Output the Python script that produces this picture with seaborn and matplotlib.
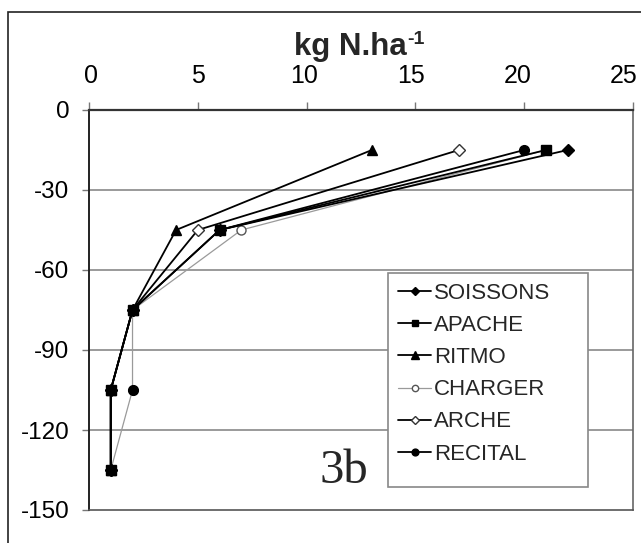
import numpy as np
import pandas as pd
import matplotlib
matplotlib.use("Agg")
import matplotlib.pyplot as plt
import matplotlib.transforms as mtransforms
import seaborn as sns
from matplotlib.patches import Rectangle

# ---- data ----
depths = [-15, -45, -75, -105, -135]
soissons = [22.0, 6.0, 2.0, 1.0, 1.0]
apache = [21.0, 6.0, 2.0, 1.0, 1.0]
ritmo = [13.0, 4.0, 2.0, 1.0, 1.0]
charger = [21.0, 7.0, 2.0, 2.0, 1.0]
arche = [17.0, 5.0, 2.0, 1.0, 1.0]
recital = [20.0, 6.0, np.nan, 2.0, np.nan]

names = ["SOISSONS", "APACHE", "RITMO", "CHARGER", "ARCHE", "RECITAL"]
values = dict(zip(names, [soissons, apache, ritmo, charger, arche, recital]))
draw_order = ["CHARGER", "ARCHE", "RITMO", "SOISSONS", "RECITAL", "APACHE"]
x_ticks = [0, 5, 10, 15, 20, 25]
y_ticks = [-150, -120, -90, -60, -30, 0]

styles = {
    "SOISSONS": dict(marker="D", color="black", mfc="black", mec="black", lw=1.3, ms=6.5),
    "APACHE": dict(marker="s", color="black", mfc="black", mec="black", lw=1.3, ms=6.5),
    "RITMO": dict(marker="^", color="black", mfc="black", mec="black", lw=1.3, ms=7.5),
    "CHARGER": dict(marker="o", color="#9a9a9a", mfc="white", mec="#555555", lw=0.9, ms=6.5),
    "ARCHE": dict(marker="D", color="black", mfc="white", mec="#333333", lw=1.3, ms=6.5),
    "RECITAL": dict(marker="o", color="black", mfc="black", mec="black", lw=1.3, ms=7),
}

sns.set_style("white")
plt.rcParams["font.family"] = ["Liberation Sans", "DejaVu Sans"]
plt.rcParams["axes.unicode_minus"] = False

fig = plt.figure(figsize=(6.41, 5.43), dpi=100)
ax = fig.add_axes([89 / 641, 1 - 510 / 543, (633 - 89) / 641, 400 / 543])

handles = {}
for name in draw_order:
    df = pd.DataFrame({"N": values[name], "depth": depths})
    df["seg"] = df["N"].isna().cumsum()
    df = df.dropna()
    st = styles[name]
    n0 = len(ax.lines)
    sns.lineplot(data=df, x="N", y="depth", units="seg", estimator=None,
                 sort=False, ax=ax, color=st["color"], marker=st["marker"],
                 markerfacecolor=st["mfc"], markeredgecolor=st["mec"],
                 markeredgewidth=1.0, markersize=st["ms"], linewidth=st["lw"],
                 legend=False)
    handles[name] = ax.lines[n0]

ax.set_xlim(0, 25)
ax.set_ylim(-150, 0)
ax.set_xticks(x_ticks)
ax.set_yticks(y_ticks)
ax.xaxis.tick_top()
ax.xaxis.set_label_position("top")
ax.tick_params(axis="x", which="both", top=True, bottom=False, direction="out",
               length=6, width=1, color="#777777", labelsize=18, pad=10,
               labelcolor="black")
ax.tick_params(axis="y", which="both", left=True, direction="out",
               length=5, width=1, color="#777777", labelsize=17.5, pad=9,
               labelcolor="black")
ax.set_xlabel("kg N.ha", fontsize=22.5, fontweight="bold", labelpad=6)
ax.xaxis.label.set_x(0.48)
ax.annotate("-1", xy=(1, 1), xycoords=ax.xaxis.label, xytext=(0.5, 1),
            textcoords="offset points", ha="left", va="top",
            fontsize=14, fontweight="bold")
ax.set_ylabel("")

# slight leftward drift of the top tick labels, as in the reference
for i, lab in enumerate(ax.get_xticklabels()):
    dx = (2.0 - 2.2 * i) / 100.0
    lab.set_transform(lab.get_transform() +
                      mtransforms.ScaledTranslation(dx, 0, fig.dpi_scale_trans))

for y in [-30, -60, -90, -120]:
    ax.axhline(y, color="#9a9a9a", lw=1.4, zorder=0)

ax.spines["top"].set_color("#333333")
ax.spines["top"].set_linewidth(1.6)
ax.spines["left"].set_color("#222222")
ax.spines["left"].set_linewidth(1.4)
ax.spines["bottom"].set_color("#555555")
ax.spines["bottom"].set_linewidth(1.2)
ax.spines["right"].set_color("#666666")
ax.spines["right"].set_linewidth(1.2)

leg = ax.legend([handles[n] for n in names], names, loc="upper left",
                bbox_to_anchor=(388 / 641, 1 - 273 / 543),
                bbox_transform=fig.transFigure,
                borderaxespad=0, frameon=False,
                fontsize=16, handlelength=1.5, handletextpad=0.12,
                labelspacing=0.5, borderpad=0.45, markerscale=0.7)
leg.set_zorder(6)

# legend frame as in the reference (drawn inside the axes, under the legend)
frame = Rectangle((388 / 641, 1 - 487 / 543), 200 / 641, 214 / 543,
                  transform=fig.transFigure, facecolor="white",
                  edgecolor="#888888", lw=1.2, zorder=5, clip_on=False)
ax.add_patch(frame)

ax.text(11.7, -135.2, "3b", family=["Liberation Serif", "DejaVu Serif"],
        fontsize=35, ha="center", va="center")

# outer border of the figure
fig.patches.append(Rectangle((8 / 641, -0.05), 2.0, 1 - 12 / 543 + 0.05,
                             transform=fig.transFigure, fill=False,
                             edgecolor="#222222", lw=1.2, zorder=-1))

fig.savefig("out.png", dpi=100)
